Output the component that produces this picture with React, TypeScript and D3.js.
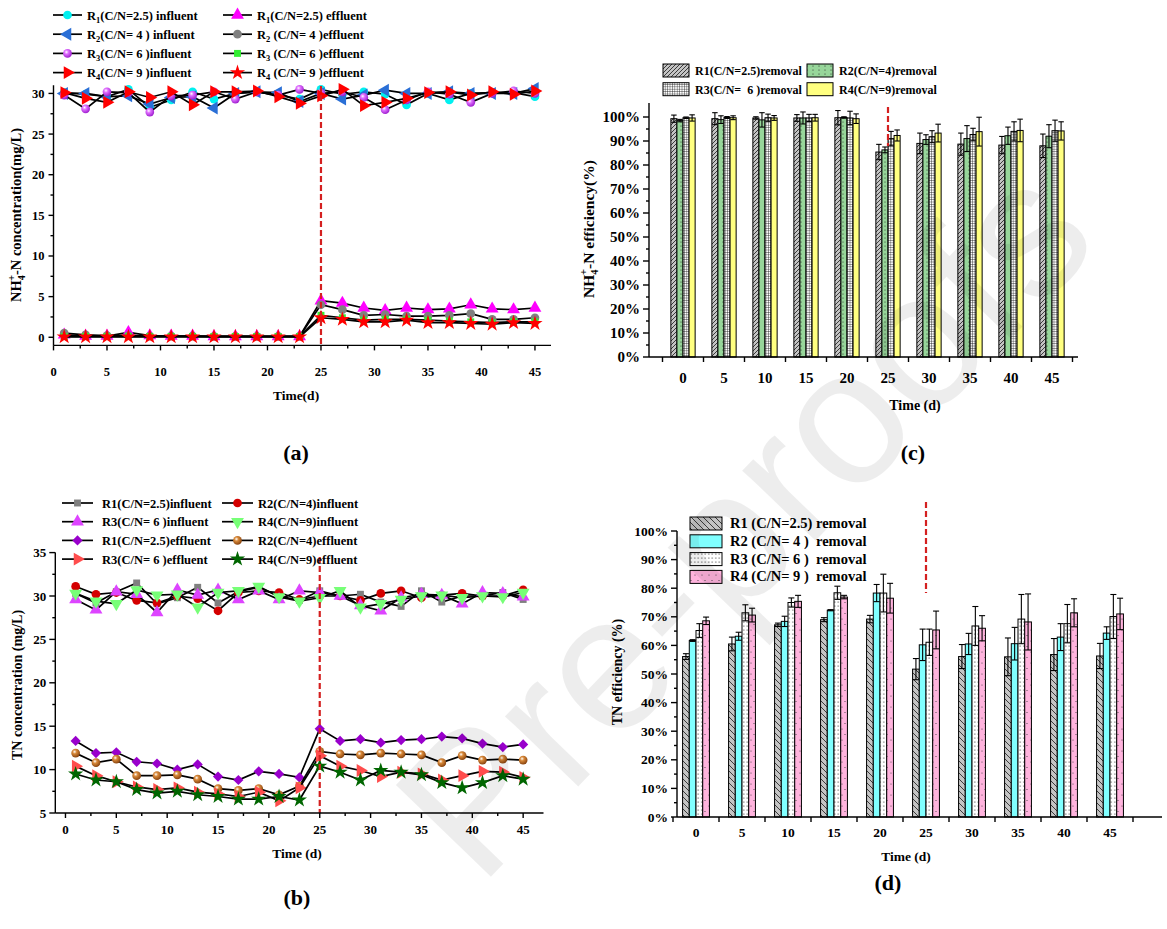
import React from "react";
import * as d3 from "d3";

const FONT = "'Liberation Serif', 'Times New Roman', serif";

// ---------- shared ----------
const days = [1, 3, 5, 7, 9, 11, 13, 15, 17, 19, 21, 23, 25, 27, 29, 31, 33, 35, 37, 39, 41, 43, 45];
const timeTicks = [0, 5, 10, 15, 20, 25, 30, 35, 40, 45];
const groups = [0, 5, 10, 15, 20, 25, 30, 35, 40, 45];

// ---------- panel (a) NH4+-N concentration ----------
const aR1Inf = [30.1, 29.9, 29.6, 30.5, 28.3, 29.2, 30.2, 29.3, 30.0, 30.2, 29.8, 29.3, 30.5, 29.9, 30.2, 29.9, 28.6, 30.0, 29.2, 30.0, 30.1, 30.1, 29.6];
const aR2Inf = [30.0, 30.0, 29.6, 29.7, 28.7, 29.5, 29.6, 28.2, 30.0, 30.2, 30.1, 29.0, 30.0, 29.3, 29.8, 30.4, 30.0, 30.0, 30.2, 30.0, 30.0, 30.0, 30.6];
const aR3Inf = [29.8, 28.1, 30.2, 30.1, 27.7, 29.7, 29.8, 30.2, 29.3, 30.2, 29.8, 30.5, 30.0, 30.2, 29.5, 28.0, 29.2, 30.2, 29.9, 28.9, 30.0, 30.3, 30.0];
const aR4Inf = [30.1, 29.4, 28.9, 30.2, 29.5, 30.2, 28.6, 30.2, 30.2, 30.3, 29.6, 28.8, 29.7, 30.5, 28.5, 28.9, 29.4, 30.1, 30.2, 29.8, 30.2, 29.9, 30.3];
const aR1Eff = [0.3, 0.15, 0.15, 0.6, 0.2, 0.15, 0.15, 0.1, 0.1, 0.1, 0.1, 0.1, 4.5, 4.2, 3.6, 3.3, 3.6, 3.4, 3.5, 4.0, 3.5, 3.4, 3.6];
const aR2Eff = [0.5, 0.3, 0.2, 0.2, 0.15, 0.15, 0.15, 0.1, 0.1, 0.1, 0.1, 0.1, 4.0, 3.4, 2.7, 2.8, 2.6, 2.6, 2.7, 2.9, 2.2, 2.2, 2.4];
const aR3Eff = [0.1, 0.1, 0.1, 0.1, 0.1, 0.1, 0.1, 0.1, 0.1, 0.1, 0.1, 0.1, 2.7, 2.4, 2.1, 2.2, 2.2, 2.1, 2.0, 1.9, 1.8, 1.9, 1.9];
const aR4Eff = [0.05, 0.05, 0.05, 0.05, 0.05, 0.05, 0.05, 0.05, 0.05, 0.05, 0.05, 0.05, 2.4, 2.2, 1.9, 1.9, 2.1, 1.8, 1.8, 1.7, 1.6, 1.8, 1.7];
const aYTicks = [0, 5, 10, 15, 20, 25, 30];

// ---------- panel (b) TN concentration ----------
const bR1Inf = [30.3, 29.2, 30.5, 31.5, 29.1, 29.8, 31.0, 29.2, 30.5, 31.0, 30.0, 29.5, 30.6, 30.0, 30.2, 29.3, 28.8, 30.6, 29.3, 30.0, 30.0, 30.4, 29.6];
const bR2Inf = [31.1, 30.2, 30.4, 29.5, 29.2, 30.0, 29.7, 28.3, 30.4, 30.6, 30.4, 29.6, 30.0, 30.0, 29.5, 30.3, 30.6, 29.8, 30.1, 30.3, 30.0, 30.0, 30.7];
const bR3Inf = [29.6, 28.4, 30.5, 30.2, 28.1, 30.7, 30.1, 30.7, 29.6, 30.6, 29.6, 30.6, 30.4, 30.0, 28.9, 28.3, 29.8, 30.2, 30.1, 29.1, 30.4, 30.3, 29.9];
const bR4Inf = [30.3, 29.4, 29.1, 30.7, 30.1, 30.2, 28.7, 30.4, 30.6, 31.1, 29.9, 29.4, 29.8, 30.6, 28.7, 29.1, 29.6, 30.0, 30.1, 29.8, 30.0, 29.9, 30.4];
const bR1Eff = [13.3, 11.9, 12.0, 10.9, 10.7, 10.0, 10.6, 9.2, 8.8, 9.8, 9.5, 9.1, 14.7, 13.3, 13.5, 13.1, 13.4, 13.5, 13.8, 13.6, 13.0, 12.6, 12.9];
const bR2Eff = [11.9, 10.8, 11.2, 9.3, 9.3, 9.4, 8.9, 7.8, 7.6, 7.8, 7.1, 8.1, 12.1, 11.8, 11.7, 11.9, 11.8, 11.7, 10.8, 11.6, 11.1, 11.2, 11.1];
const bR3Eff = [10.4, 9.3, 8.6, 8.0, 7.7, 7.9, 7.4, 7.2, 6.9, 7.4, 6.4, 7.9, 11.6, 10.4, 9.9, 9.2, 9.7, 9.5, 8.8, 9.3, 9.8, 9.7, 9.1];
const bR4Eff = [9.5, 8.8, 8.6, 7.7, 7.3, 7.5, 7.1, 6.9, 6.6, 6.6, 6.9, 6.5, 10.4, 9.7, 8.8, 9.9, 9.7, 9.4, 8.5, 7.9, 8.5, 9.3, 8.9];
const bYTicks = [5, 10, 15, 20, 25, 30, 35];

// ---------- panel (c) NH4+-N removal efficiency (%) ----------
const cR1 = [99.3, 99.3, 99.6, 99.6, 99.7, 85.4, 89.0, 88.7, 88.3, 88.0];
const cR1Err = [1.5, 2.5, 0.5, 1.4, 3.0, 3.2, 4.3, 4.6, 3.6, 4.9];
const cR2 = [98.5, 98.9, 98.8, 99.6, 99.8, 86.3, 90.6, 91.0, 92.2, 92.0];
const cR2Err = [0.5, 1.6, 3.0, 2.5, 0.3, 1.2, 2.0, 5.4, 3.6, 4.8];
const cR3 = [99.7, 99.8, 99.7, 99.6, 99.6, 91.0, 91.8, 92.7, 94.0, 94.3];
const cR3Err = [0.3, 0.4, 1.5, 1.5, 2.8, 3.0, 2.5, 2.6, 4.0, 4.4];
const cR4 = [99.6, 99.7, 99.6, 99.7, 99.3, 92.3, 93.3, 93.9, 94.4, 94.2];
const cR4Err = [1.3, 0.8, 1.0, 1.4, 2.0, 2.3, 3.7, 6.0, 4.7, 3.8];
const cYTicks = [0, 10, 20, 30, 40, 50, 60, 70, 80, 90, 100];

// ---------- panel (d) TN removal efficiency (%) ----------
const dR1 = [56.1, 60.5, 67.2, 69.0, 69.2, 51.7, 56.1, 56.0, 56.8, 56.3];
const dR1Err = [1.0, 2.4, 0.6, 0.7, 1.3, 3.7, 4.2, 6.6, 5.6, 4.4];
const dR2 = [61.7, 63.2, 68.4, 72.3, 78.3, 60.2, 60.5, 60.6, 62.9, 64.3];
const dR2Err = [0.3, 1.4, 1.8, 0.2, 3.0, 5.5, 3.7, 5.7, 4.7, 2.2];
const dR3 = [65.2, 71.4, 75.0, 78.4, 78.3, 61.1, 66.8, 69.2, 67.6, 70.1];
const dR3Err = [2.4, 2.8, 1.6, 2.3, 6.6, 4.6, 6.8, 8.6, 6.7, 7.7];
const dR4 = [68.6, 70.6, 75.4, 76.9, 76.5, 65.4, 66.0, 68.2, 71.4, 71.0];
const dR4Err = [1.3, 2.4, 2.1, 0.6, 5.2, 6.6, 4.4, 9.8, 4.9, 5.5];
const dYTicks = [0, 10, 20, 30, 40, 50, 60, 70, 80, 90, 100];

// ---------- helpers ----------
const P = (t: any, s: number) => d3.symbol().type(t).size(s)() as string;

function Marker({ kind, x, y, color }: any) {
  let d = "";
  let rot = 0;
  let fill = color;
  if (kind === "circle") d = P(d3.symbolCircle, 60);
  else if (kind === "sphere") { d = P(d3.symbolCircle, 60); fill = `url(#${color})`; }
  else if (kind === "up") d = P(d3.symbolTriangle, 72);
  else if (kind === "down") { d = P(d3.symbolTriangle, 72); rot = 180; }
  else if (kind === "left") { d = P(d3.symbolTriangle, 72); rot = -90; }
  else if (kind === "right") { d = P(d3.symbolTriangle, 72); rot = 90; }
  else if (kind === "square") d = P(d3.symbolSquare, 48);
  else if (kind === "diamond") { d = P(d3.symbolSquare, 52); rot = 45; }
  else if (kind === "star") d = P(d3.symbolStar, 72);
  return <path d={d} fill={fill} transform={`translate(${x},${y}) rotate(${rot})`} />;
}

function Series({ values, xs, ys, kind, color }: any) {
  const line = d3.line<number>().x((_, i) => xs(days[i])).y((v) => ys(v));
  return (
    <g>
      <path d={line(values) as string} fill="none" stroke="#000" strokeWidth={1.7} />
      {values.map((v: number, i: number) => (
        <Marker key={i} kind={kind} x={xs(days[i])} y={ys(v)} color={color} />
      ))}
    </g>
  );
}

function LegendLine({ x, y, kind, color, len = 30 }: any) {
  return (
    <g>
      <line x1={x} x2={x + len} y1={y} y2={y} stroke="#000" strokeWidth={1.7} />
      <Marker kind={kind} x={x + len / 2} y={y} color={color} />
    </g>
  );
}

function Bars({ vals, xs, ys, idx, bw, fill }: any) {
  return (
    <g>
      {vals.map((v: number, i: number) => {
        const x0 = xs(groups[i]) + (idx - 2) * bw;
        return (
          <rect key={i} x={x0} y={ys(v)} width={bw} height={ys(0) - ys(v)} fill={fill} stroke="#000" strokeWidth={1} />
        );
      })}
    </g>
  );
}

function ErrBars({ vals, errs, xs, ys, idx, bw }: any) {
  return (
    <g stroke="#000" strokeWidth={1.1}>
      {vals.map((v: number, i: number) => {
        const cx = xs(groups[i]) + (idx - 1.5) * bw;
        const yt = ys(v + errs[i]);
        const yb = ys(v - errs[i]);
        const h = bw * 0.45;
        return (
          <g key={i}>
            <line x1={cx} x2={cx} y1={yt} y2={yb} />
            <line x1={cx - h} x2={cx + h} y1={yt} y2={yt} />
            <line x1={cx - h} x2={cx + h} y1={yb} y2={yb} />
          </g>
        );
      })}
    </g>
  );
}

const boldText = { fontFamily: FONT, fontWeight: 700 as any, whiteSpace: "pre" as any };

export default function App() {
  // scales
  const xA = d3.scaleLinear().domain([0, 46.5]).range([53.5, 551]);
  const yA = d3.scaleLinear().domain([-1, 31]).range([345.4, 85.3]);
  const xB = d3.scaleLinear().domain([-1, 47]).range([55.3, 543.5]);
  const yB = d3.scaleLinear().domain([5, 35]).range([813, 552.6]);
  const xC = d3.scaleLinear().domain([0, 45]).range([683, 1052]);
  const yC = d3.scaleLinear().domain([0, 100]).range([357, 117]);
  const xD = d3.scaleLinear().domain([0, 45]).range([696, 1110]);
  const yD = d3.scaleLinear().domain([0, 100]).range([817, 531]);
  const bwC = (xC(5) - xC(0)) * 0.148;
  const bwD = (xD(5) - xD(0)) * 0.146;

  const aSeries = [
    { v: aR1Inf, kind: "circle", color: "#00f0f0" },
    { v: aR2Inf, kind: "left", color: "#2a6fd6" },
    { v: aR3Inf, kind: "sphere", color: "sphPurple" },
    { v: aR4Inf, kind: "right", color: "#ff0000" },
    { v: aR1Eff, kind: "up", color: "#ff00ff" },
    { v: aR2Eff, kind: "circle", color: "#808080" },
    { v: aR3Eff, kind: "square", color: "#33ee33" },
    { v: aR4Eff, kind: "star", color: "#ff0000" },
  ];
  const aLegend = [
    { kind: "circle", color: "#00f0f0", n: "1", t: "(C/N=2.5) influent", col: 0, row: 0 },
    { kind: "up", color: "#ff00ff", n: "1", t: "(C/N=2.5) effluent", col: 1, row: 0 },
    { kind: "left", color: "#2a6fd6", n: "2", t: "(C/N= 4 ) influent", col: 0, row: 1 },
    { kind: "circle", color: "#808080", n: "2", t: " (C/N= 4 )effluent", col: 1, row: 1 },
    { kind: "sphere", color: "sphPurple", n: "3", t: "(C/N= 6 )influent", col: 0, row: 2 },
    { kind: "square", color: "#33ee33", n: "3", t: " (C/N= 6 )effluent", col: 1, row: 2 },
    { kind: "right", color: "#ff0000", n: "4", t: "(C/N= 9 )influent", col: 0, row: 3 },
    { kind: "star", color: "#ff0000", n: "4", t: " (C/N= 9 )effluent", col: 1, row: 3 },
  ];
  const bSeries = [
    { v: bR1Inf, kind: "square", color: "#808080" },
    { v: bR2Inf, kind: "circle", color: "#d40000" },
    { v: bR3Inf, kind: "up", color: "#dd44ff" },
    { v: bR4Inf, kind: "down", color: "#77ff77" },
    { v: bR1Eff, kind: "diamond", color: "#9900cc" },
    { v: bR2Eff, kind: "sphere", color: "sphBrown" },
    { v: bR3Eff, kind: "right", color: "#ff4d4d" },
    { v: bR4Eff, kind: "star", color: "#006600" },
  ];
  const bLegend = [
    { kind: "square", color: "#808080", t: "R1(C/N=2.5)influent", col: 0, row: 0 },
    { kind: "circle", color: "#d40000", t: "R2(C/N=4)influent", col: 1, row: 0 },
    { kind: "up", color: "#dd44ff", t: "R3(C/N= 6 )influent", col: 0, row: 1 },
    { kind: "down", color: "#77ff77", t: "R4(C/N=9)influent", col: 1, row: 1 },
    { kind: "diamond", color: "#9900cc", t: "R1(C/N=2.5)effluent", col: 0, row: 2 },
    { kind: "sphere", color: "sphBrown", t: "R2(C/N=4)effluent", col: 1, row: 2 },
    { kind: "right", color: "#ff4d4d", t: "R3(C/N= 6 )effluent", col: 0, row: 3 },
    { kind: "star", color: "#006600", t: "R4(C/N=9)effluent", col: 1, row: 3 },
  ];
  const cBars = [
    { v: cR1, e: cR1Err, fill: "url(#pc1)" },
    { v: cR2, e: cR2Err, fill: "url(#pc2)" },
    { v: cR3, e: cR3Err, fill: "url(#pc3)" },
    { v: cR4, e: cR4Err, fill: "#ffff80" },
  ];
  const cLegend = [
    { fill: "url(#pc1)", t: "R1(C/N=2.5)removal", col: 0, row: 0 },
    { fill: "url(#pc2)", t: "R2(C/N=4)removal", col: 1, row: 0 },
    { fill: "url(#pc3)", t: "R3(C/N=  6 )removal", col: 0, row: 1 },
    { fill: "#ffff80", t: "R4(C/N=9)removal", col: 1, row: 1 },
  ];
  const dBars = [
    { v: dR1, e: dR1Err, fill: "url(#pd1)" },
    { v: dR2, e: dR2Err, fill: "#80ffff" },
    { v: dR3, e: dR3Err, fill: "url(#pd3)" },
    { v: dR4, e: dR4Err, fill: "url(#pd4)" },
  ];
  const dLegend = [
    { fill: "url(#pd1)", t: "R1 (C/N=2.5) removal" },
    { fill: "#80ffff", t: "R2 (C/N= 4 )  removal" },
    { fill: "url(#pd3)", t: "R3 (C/N= 6 )  removal" },
    { fill: "url(#pd4)", t: "R4 (C/N= 9 )  removal" },
  ];

  const minorA = d3.range(2.5, 46, 5);
  const minorAY = d3.range(2.5, 30, 5);
  const minorBY = d3.range(7.5, 35, 5);
  const cxTicks = d3.range(-2.5, 48, 5);
  const dxTicks = d3.range(-2.5, 50, 5);

  return (
    <svg width={1167} height={929} style={{ position: "absolute", left: 0, top: 0, display: "block" }}>
      <defs>
        <radialGradient id="sphPurple" cx="0.38" cy="0.35" r="0.65">
          <stop offset="0" stopColor="#ffffff" />
          <stop offset="0.35" stopColor="#e070ff" />
          <stop offset="1" stopColor="#a020d0" />
        </radialGradient>
        <radialGradient id="sphBrown" cx="0.38" cy="0.35" r="0.65">
          <stop offset="0" stopColor="#ffffff" />
          <stop offset="0.35" stopColor="#d98a3a" />
          <stop offset="1" stopColor="#8a4510" />
        </radialGradient>
        <pattern id="pc1" patternUnits="userSpaceOnUse" width="4" height="4">
          <rect width="4" height="4" fill="#c4c4c4" />
          <path d="M-1,1 l2,-2 M0,4 l4,-4 M3,5 l2,-2" stroke="#000" strokeWidth="0.7" />
        </pattern>
        <pattern id="pc2" patternUnits="userSpaceOnUse" width="6" height="4">
          <rect width="6" height="4" fill="#97d69a" />
          <circle cx="3" cy="2" r="0.55" fill="#222" />
        </pattern>
        <pattern id="pc3" patternUnits="userSpaceOnUse" width="2.4" height="2.4">
          <rect width="2.4" height="2.4" fill="#fff" />
          <path d="M0,0 h2.4 M0,0 v2.4" stroke="#000" strokeWidth="0.7" />
        </pattern>
        <pattern id="pd1" patternUnits="userSpaceOnUse" width="6" height="6">
          <rect width="6" height="6" fill="#c4c4c4" />
          <path d="M0,0 l6,6 M-1,5 l2,2 M5,-1 l2,2" stroke="#000" strokeWidth="0.7" />
        </pattern>
        <pattern id="pd3" patternUnits="userSpaceOnUse" width="3.5" height="4">
          <rect width="3.5" height="4" fill="#fff" />
          <circle cx="1.75" cy="2" r="0.55" fill="#000" />
        </pattern>
        <pattern id="pd4" patternUnits="userSpaceOnUse" width="7" height="11">
          <rect width="7" height="11" fill="#ffb3dd" />
          <circle cx="2" cy="3" r="0.6" fill="#444" />
          <circle cx="5" cy="8.5" r="0.6" fill="#444" />
        </pattern>
      </defs>
      <rect width={1167} height={929} fill="#fff" />

      {/* ================= Panel (a) ================= */}
      <g>
        {aLegend.map((l, i) => {
          const lx = l.col === 0 ? 53 : 223;
          const ly = 15 + l.row * 19.2;
          return (
            <g key={i}>
              <LegendLine x={lx} y={ly} kind={l.kind} color={l.color} len={29} />
              <text x={lx + 34} y={ly + 4.5} fontSize={12.5} style={boldText}>
                R<tspan fontSize={8.5} dy={3}>{l.n}</tspan>
                <tspan dy={-3}>{l.t}</tspan>
              </text>
            </g>
          );
        })}
        {aSeries.map((s, i) => (
          <Series key={i} values={s.v} xs={xA} ys={yA} kind={s.kind} color={s.color} />
        ))}
        <line x1={xA(25)} x2={xA(25)} y1={86} y2={345} stroke="#d42020" strokeWidth={2.2} strokeDasharray="6,3" />
        {/* axes */}
        <g stroke="#000" strokeWidth={1.4}>
          <line x1={xA(0)} x2={xA(0)} y1={yA(31)} y2={yA(-1)} />
          <line x1={xA(0)} x2={xA(46.5)} y1={yA(-1)} y2={yA(-1)} />
          {aYTicks.map((t) => <line key={t} x1={xA(0) - 5} x2={xA(0)} y1={yA(t)} y2={yA(t)} />)}
          {minorAY.map((t) => <line key={t} x1={xA(0) - 3} x2={xA(0)} y1={yA(t)} y2={yA(t)} />)}
          {timeTicks.map((t) => <line key={t} x1={xA(t)} x2={xA(t)} y1={yA(-1)} y2={yA(-1) + 5} />)}
          {minorA.map((t) => <line key={t} x1={xA(t)} x2={xA(t)} y1={yA(-1)} y2={yA(-1) + 3} />)}
        </g>
        {aYTicks.map((t) => (
          <text key={t} x={xA(0) - 9} y={yA(t) + 4.5} fontSize={12.5} textAnchor="end" style={boldText}>{t}</text>
        ))}
        {timeTicks.map((t) => (
          <text key={t} x={xA(t)} y={376} fontSize={12.5} textAnchor="middle" style={boldText}>{t}</text>
        ))}
        <text x={296} y={400} fontSize={13.5} textAnchor="middle" style={boldText}>Time(d)</text>
        <text x={296} y={460} fontSize={22} textAnchor="middle" style={boldText}>(a)</text>
        <text transform="translate(21,215) rotate(-90)" fontSize={14.5} textAnchor="middle" style={boldText}>
          NH<tspan fontSize={10} dy={4}>4</tspan><tspan fontSize={10} dy={-10} dx={-5.5}>+</tspan><tspan dy={6}>-N concentration(mg/L)</tspan>
        </text>
      </g>

      {/* ================= Panel (b) ================= */}
      <g>
        {bSeries.map((s, i) => (
          <Series key={i} values={s.v} xs={xB} ys={yB} kind={s.kind} color={s.color} />
        ))}
        <line x1={xB(25)} x2={xB(25)} y1={557} y2={813} stroke="#d42020" strokeWidth={2.2} strokeDasharray="6,3" />
        {bLegend.map((l, i) => {
          const lx = l.col === 0 ? 62 : 222;
          const ly = 503 + l.row * 18.7;
          return (
            <g key={i}>
              <LegendLine x={lx} y={ly} kind={l.kind} color={l.color} len={31} />
              <text x={l.col === 0 ? lx + 40 : lx + 36} y={ly + 4.5} fontSize={12.5} style={boldText}>{l.t}</text>
            </g>
          );
        })}
        <g stroke="#000" strokeWidth={1.4}>
          <line x1={xB(-1)} x2={xB(-1)} y1={yB(35)} y2={yB(5)} />
          <line x1={xB(-1)} x2={xB(47)} y1={yB(5)} y2={yB(5)} />
          {bYTicks.map((t) => <line key={t} x1={xB(-1) - 6} x2={xB(-1)} y1={yB(t)} y2={yB(t)} />)}
          {minorBY.map((t) => <line key={t} x1={xB(-1) - 3} x2={xB(-1)} y1={yB(t)} y2={yB(t)} />)}
          {timeTicks.map((t) => <line key={t} x1={xB(t)} x2={xB(t)} y1={yB(5)} y2={yB(5) + 5} />)}
          {minorA.map((t) => <line key={t} x1={xB(t)} x2={xB(t)} y1={yB(5)} y2={yB(5) + 3} />)}
        </g>
        {bYTicks.map((t) => (
          <text key={t} x={xB(-1) - 9} y={yB(t) + 4.5} fontSize={13} textAnchor="end" style={boldText}>{t}</text>
        ))}
        {timeTicks.map((t) => (
          <text key={t} x={xB(t)} y={834} fontSize={13} textAnchor="middle" style={boldText}>{t}</text>
        ))}
        <text x={297} y={858} fontSize={13.5} textAnchor="middle" style={boldText}>Time (d)</text>
        <text x={297} y={905} fontSize={22} textAnchor="middle" style={boldText}>(b)</text>
        <text transform="translate(22,685) rotate(-90)" fontSize={14} textAnchor="middle" style={boldText}>TN concentration (mg/L)</text>
      </g>

      {/* ================= Panel (c) ================= */}
      <g>
        {cLegend.map((l, i) => {
          const lx = l.col === 0 ? 663 : 807;
          const ly = 64 + l.row * 18.7;
          return (
            <g key={i}>
              <rect x={lx} y={ly} width={26} height={13} fill={l.fill} stroke="#000" strokeWidth={1} />
              <text x={lx + 32} y={ly + 11} fontSize={12} style={boldText}>{l.t}</text>
            </g>
          );
        })}
        {cBars.map((b, k) => (
          <Bars key={k} vals={b.v} xs={xC} ys={yC} idx={k} bw={bwC} fill={b.fill} />
        ))}
        {cBars.map((b, k) => (
          <ErrBars key={k} vals={b.v} errs={b.e} xs={xC} ys={yC} idx={k} bw={bwC} />
        ))}
        <line x1={xC(25)} x2={xC(25)} y1={107} y2={146} stroke="#d42020" strokeWidth={2.2} strokeDasharray="6,3" />
        <g stroke="#000" strokeWidth={1.4}>
          <line x1={649} x2={649} y1={yC(105.8)} y2={yC(0)} />
          <line x1={649} x2={1078} y1={yC(0)} y2={yC(0)} />
          {cYTicks.map((t) => <line key={t} x1={643} x2={649} y1={yC(t)} y2={yC(t)} />)}
          {cYTicks.slice(0, -1).map((t) => <line key={t} x1={646} x2={649} y1={yC(t + 5)} y2={yC(t + 5)} />)}
          {cxTicks.map((t) => <line key={t} x1={xC(t)} x2={xC(t)} y1={yC(0)} y2={yC(0) + 5} />)}
        </g>
        {cYTicks.map((t) => (
          <text key={t} x={640} y={yC(t) + 5} fontSize={15} textAnchor="end" style={boldText}>{t}%</text>
        ))}
        {groups.map((t) => (
          <text key={t} x={xC(t)} y={383} fontSize={15} textAnchor="middle" style={boldText}>{t}</text>
        ))}
        <text x={915} y={410} fontSize={14} textAnchor="middle" style={boldText}>Time (d)</text>
        <text x={913} y={460} fontSize={22} textAnchor="middle" style={boldText}>(c)</text>
        <text transform="translate(594,229) rotate(-90)" fontSize={15.5} textAnchor="middle" style={boldText}>
          NH<tspan fontSize={10.5} dy={4}>4</tspan><tspan fontSize={10.5} dy={-11} dx={-5.5}>+</tspan><tspan dy={7}>-N efficiency(%)</tspan>
        </text>
      </g>

      {/* ================= Panel (d) ================= */}
      <g>
        {dBars.map((b, k) => (
          <Bars key={k} vals={b.v} xs={xD} ys={yD} idx={k} bw={bwD} fill={b.fill} />
        ))}
        {dBars.map((b, k) => (
          <ErrBars key={k} vals={b.v} errs={b.e} xs={xD} ys={yD} idx={k} bw={bwD} />
        ))}
        <line x1={xD(25)} x2={xD(25)} y1={502} y2={593} stroke="#d42020" strokeWidth={2.2} strokeDasharray="6,3" />
        {dLegend.map((l, i) => {
          const ly = 517 + i * 17.8;
          return (
            <g key={i}>
              <rect x={690} y={ly} width={32} height={13} fill={l.fill} stroke="#000" strokeWidth={1} />
              <text x={730} y={ly + 11} fontSize={14.5} style={boldText}>{l.t}</text>
            </g>
          );
        })}
        <g stroke="#000" strokeWidth={1.4}>
          <line x1={677} x2={677} y1={yD(100)} y2={yD(0)} />
          <line x1={677} x2={1162} y1={yD(0)} y2={yD(0)} />
          {dYTicks.map((t) => <line key={t} x1={671} x2={677} y1={yD(t)} y2={yD(t)} />)}
          {dYTicks.slice(0, -1).map((t) => <line key={t} x1={674} x2={677} y1={yD(t + 5)} y2={yD(t + 5)} />)}
          {dxTicks.map((t) => <line key={t} x1={xD(t)} x2={xD(t)} y1={yD(0)} y2={yD(0) + 5} />)}
        </g>
        {dYTicks.map((t) => (
          <text key={t} x={668} y={yD(t) + 4.5} fontSize={13.5} textAnchor="end" style={boldText}>{t}%</text>
        ))}
        {groups.map((t) => (
          <text key={t} x={xD(t)} y={837} fontSize={13.5} textAnchor="middle" style={boldText}>{t}</text>
        ))}
        <text x={906} y={861} fontSize={13.5} textAnchor="middle" style={boldText}>Time (d)</text>
        <text x={888} y={890} fontSize={22} textAnchor="middle" style={boldText}>(d)</text>
        <text transform="translate(622,672) rotate(-90)" fontSize={14} textAnchor="middle" style={boldText}>TN efficiency (%)</text>
      </g>

      {/* watermark */}
      <text
        transform="translate(480,888) rotate(-46)"
        fontSize={192}
        fontFamily="'Liberation Sans', Arial, sans-serif"
        fill="#000"
        fillOpacity={0.07}
        style={{ pointerEvents: "none" }}
      >
        Pre-proofs
      </text>
    </svg>
  );
}
